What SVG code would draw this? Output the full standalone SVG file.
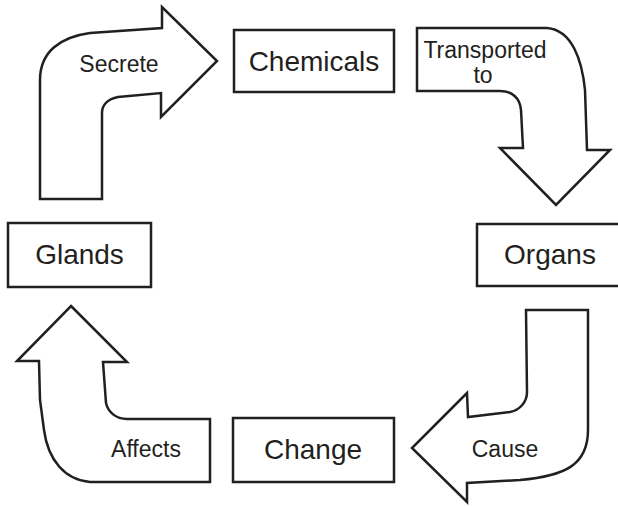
<svg xmlns="http://www.w3.org/2000/svg" width="618" height="506" viewBox="0 0 618 506">
<style>
.box{fill:#fff;stroke:#231f20;stroke-width:2.5}
.arr{fill:#fff;stroke:#231f20;stroke-width:2.5;stroke-linejoin:miter}
.lbl{font-family:"Liberation Sans",Arial,sans-serif;font-size:28px;fill:#231f20;text-anchor:middle}
.al{font-family:"Liberation Sans",Arial,sans-serif;font-size:23px;fill:#231f20;text-anchor:middle}
</style>
<rect width="618" height="506" fill="#fff"/>
<g id="connectors">
<g id="secrete">
<path class="arr" d="M40,199 L40,80 C40,52 60,37 90,33 L162,28 L162,7 L217,61 L161,117 L161,93 L118,97 C108,99 102,105 102,113 L102,199 Z"/>
<text class="al" x="119" y="72">Secrete</text>
</g>
<g id="transported">
<path class="arr" d="M417,28 L547,28 C572,30 582,60 585,90 L587,150 L610,150 L556,205 L500,148 L523,148 L521,110 C520,98 512,91 500,91 L417,91 Z"/>
<text class="al" x="485" y="58">Transported</text>
<text class="al" x="483" y="83">to</text>
</g>
<g id="cause">
<path class="arr" d="M526,310 L588,310 L588,430 C588,465 565,476 520,480 L467,483 L467,502 L412,448 L467,393 L468,417 L510,412 C520,410 527,402 527,392 Z"/>
<text class="al" x="505" y="457">Cause</text>
</g>
<g id="affects">
<path class="arr" d="M71,306 L127,362 L103,362 L106,403 C108,412 116,419 127,419 L210,419 L210,482 L90,482 C65,480 48,460 44,430 L40,400 L39,361 L17,361 Z"/>
<text class="al" x="146" y="457">Affects</text>
</g>
</g>
<g id="chemicals">
<rect class="box" x="234" y="30" width="160" height="62"/>
<text class="lbl" x="314" y="71">Chemicals</text>
</g>
<g id="organs">
<rect class="box" x="477" y="224" width="146" height="62"/>
<text class="lbl" x="550" y="264">Organs</text>
</g>
<g id="change">
<rect class="box" x="233" y="418" width="161" height="64"/>
<text class="lbl" x="313" y="459">Change</text>
</g>
<g id="glands">
<rect class="box" x="8" y="223" width="143" height="64"/>
<text class="lbl" x="79.5" y="264">Glands</text>
</g>
</svg>
